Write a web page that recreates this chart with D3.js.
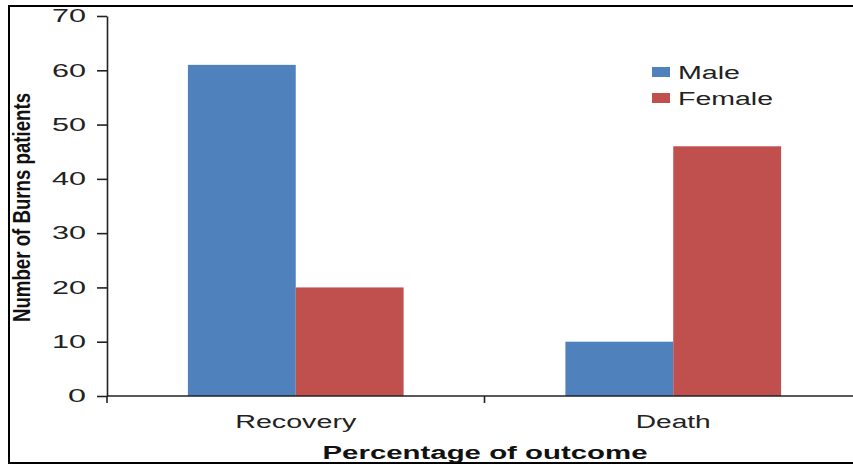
<!DOCTYPE html>
<html>
<head>
<meta charset="utf-8">
<script src="https://cdn.jsdelivr.net/npm/d3@7"></script>
<style>
  html, body { margin: 0; padding: 0; background: #fff; }
  svg { display: block; font-family: "Liberation Sans", Arial, sans-serif; }
</style>
</head>
<body>
<svg id="chart" width="853" height="465"></svg>
<script>
// ---- data ----
const categories = ["Recovery", "Death"];
const seriesNames = ["Male", "Female"];
const maleValues = [61, 10];
const femaleValues = [20, 46];
const yTicks = [0, 10, 20, 30, 40, 50, 60, 70];
const xTitle = "Percentage of outcome";
const yTitle = "Number of Burns patients";

const colors = { Male: "#4F81BD", Female: "#C0504D" };
const values = { Male: maleValues, Female: femaleValues };

const svg = d3.select("#chart");
const textColor = "#222";
const axisColor = "#222";

// frame
svg.append("rect").attr("x", 9).attr("y", 6).attr("width", 860).attr("height", 457)
  .attr("fill", "none").attr("stroke", "#000").attr("stroke-width", 2);

// scales
const y = d3.scaleLinear().domain([0, 70]).range([396, 16]);
const x0 = d3.scaleBand().domain(categories).range([107, 862]).paddingInner(0).paddingOuter(0);
const w = x0.bandwidth() / 3.5;
const x1 = d3.scaleBand().domain(seriesNames).range([0.75 * w, 2.75 * w]).padding(0);

// bars
const g = svg.append("g");
categories.forEach((c, i) => {
  seriesNames.forEach(s => {
    g.append("rect")
      .attr("x", x0(c) + x1(s))
      .attr("y", y(values[s][i]))
      .attr("width", x1.bandwidth())
      .attr("height", y(0) - y(values[s][i]))
      .attr("fill", colors[s]);
  });
});

// y axis
const yAxis = svg.append("g").attr("transform", `translate(${x0.range()[0]},0)`)
  .call(d3.axisLeft(y).tickValues(yTicks).tickSize(10).tickSizeOuter(0).tickPadding(11));
yAxis.select(".domain").attr("stroke", axisColor).attr("stroke-width", 1.6);
yAxis.selectAll(".tick line").attr("stroke", axisColor).attr("stroke-width", 1.6);
yAxis.selectAll(".tick text")
  .attr("font-size", 18).attr("fill", textColor)
  .attr("font-family", "'Liberation Sans', Arial, sans-serif")
  .attr("lengthAdjust", "spacingAndGlyphs")
  .attr("textLength", d => String(d).length === 1 ? 18 : 34);

// x axis
const xAxisG = svg.append("g");
xAxisG.append("line")
  .attr("x1", x0.range()[0]).attr("x2", x0.range()[1])
  .attr("y1", y(0)).attr("y2", y(0))
  .attr("stroke", axisColor).attr("stroke-width", 1.6);
const boundaries = categories.map(c => x0(c)).concat([x0.range()[1]]);
xAxisG.selectAll("line.tk").data(boundaries).enter().append("line")
  .attr("class", "tk")
  .attr("x1", d => d).attr("x2", d => d)
  .attr("y1", y(0)).attr("y2", y(0) + 7)
  .attr("stroke", axisColor).attr("stroke-width", 1.6);
const catWidths = { Recovery: 121, Death: 75 };
xAxisG.selectAll("text.cat").data(categories).enter().append("text")
  .attr("class", "cat")
  .attr("x", d => x0(d) + x0.bandwidth() / 2)
  .attr("y", 428)
  .attr("text-anchor", "middle")
  .attr("font-size", 18).attr("fill", textColor)
  .attr("lengthAdjust", "spacingAndGlyphs")
  .attr("textLength", d => catWidths[d])
  .text(d => d);

// x title
svg.append("text")
  .attr("x", 485).attr("y", 459)
  .attr("text-anchor", "middle")
  .attr("font-size", 18).attr("font-weight", "bold").attr("fill", "#111")
  .attr("lengthAdjust", "spacingAndGlyphs")
  .attr("textLength", 325)
  .text(xTitle);

// y title
svg.append("text")
  .attr("transform", "translate(30,207.5) rotate(-90) scale(1,1.6)")
  .attr("text-anchor", "middle")
  .attr("font-size", 15).attr("font-weight", "bold").attr("fill", "#111")
  .attr("lengthAdjust", "spacingAndGlyphs")
  .attr("textLength", 229)
  .text(yTitle);

// legend
const legendWidths = { Male: 62, Female: 95 };
const lg = svg.append("g").attr("transform", "translate(652,67)");
seriesNames.forEach((s, i) => {
  lg.append("rect").attr("x", 0).attr("y", i * 26).attr("width", 18).attr("height", 10)
    .attr("fill", colors[s]);
  lg.append("text").attr("x", 26).attr("y", i * 26 + 11.5)
    .attr("font-size", 18).attr("fill", textColor)
    .attr("lengthAdjust", "spacingAndGlyphs")
    .attr("textLength", legendWidths[s])
    .text(s);
});
</script>
</body>
</html>
